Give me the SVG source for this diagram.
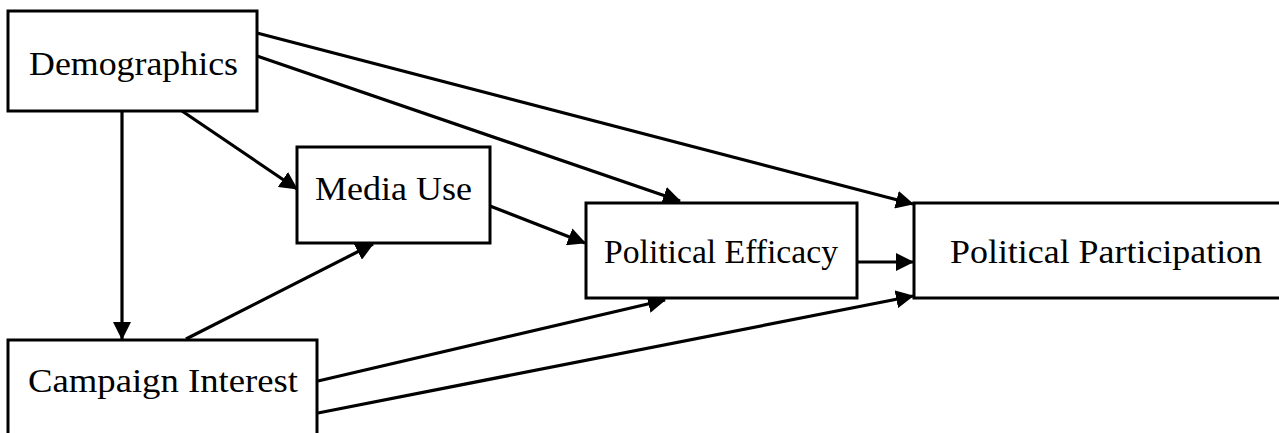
<svg xmlns="http://www.w3.org/2000/svg" width="1279" height="433" viewBox="0 0 1279 433">
<style>
.box{fill:#fff;stroke:#000;stroke-width:3}
.lbl{font-family:"Liberation Serif","Times New Roman",serif;font-size:33px;fill:#000}
.edge{stroke:#000;stroke-width:3.2;fill:none;marker-end:url(#ah)}
</style>
<defs>
<marker id="ah" viewBox="0 0 18 18" refX="17" refY="9" markerWidth="18" markerHeight="18" markerUnits="userSpaceOnUse" orient="auto">
<path d="M0,0 L18,9 L0,18 z" fill="#000"/>
</marker>
</defs>
<rect width="1279" height="433" fill="#fff"/>
<g id="connectors">
<line class="edge" x1="257" y1="33" x2="913" y2="204"/>
<line class="edge" x1="257" y1="56" x2="680" y2="201"/>
<line class="edge" x1="122" y1="111" x2="122" y2="339"/>
<line class="edge" x1="182" y1="111" x2="297" y2="189"/>
<line class="edge" x1="490" y1="206" x2="585" y2="243"/>
<line class="edge" x1="186" y1="339" x2="373" y2="244"/>
<line class="edge" x1="318" y1="381" x2="665" y2="300"/>
<line class="edge" x1="318" y1="413" x2="913" y2="296"/>
<line class="edge" x1="857" y1="262" x2="913" y2="262"/>
</g>
<g id="demographics">
<rect class="box" x="8" y="11" width="249" height="100"/>
<text class="lbl" x="29" y="75" textLength="209" lengthAdjust="spacingAndGlyphs">Demographics</text>
</g>
<g id="media-use">
<rect class="box" x="297" y="147" width="193" height="96"/>
<text class="lbl" x="315" y="200" textLength="157" lengthAdjust="spacingAndGlyphs">Media Use</text>
</g>
<g id="political-efficacy">
<rect class="box" x="586" y="203" width="271" height="95"/>
<text class="lbl" x="604" y="263" textLength="234" lengthAdjust="spacingAndGlyphs">Political Efficacy</text>
</g>
<g id="political-participation">
<path class="box" d="M1290,203 L914,203 L914,298 L1290,298"/>
<text class="lbl" x="950" y="263" textLength="312" lengthAdjust="spacingAndGlyphs">Political Participation</text>
</g>
<g id="campaign-interest">
<path class="box" d="M8,445 L8,340 L317,340 L317,445"/>
<text class="lbl" x="28" y="392" textLength="270" lengthAdjust="spacingAndGlyphs">Campaign Interest</text>
</g>
</svg>
